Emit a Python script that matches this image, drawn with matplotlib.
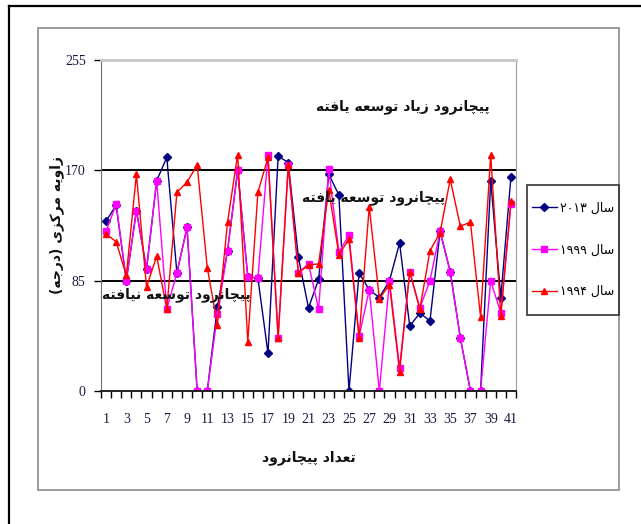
import matplotlib
matplotlib.use('Agg')
import matplotlib.pyplot as plt
from matplotlib.lines import Line2D
from matplotlib.patches import Rectangle

# data
points = list(range(1, 42))
tick_labels = [str(i) for i in range(1, 42, 2)]
y_ticks = [0, 85, 170, 255]

s2013 = [131, 143, 85, 139, 94, 162, 180, 91, 126, 0, 0, 65, 108, 170, 88, 87, 29, 181, 176, 103,
         64, 86, 167, 151, 0, 91, 78, 72, 85, 114, 50, 60, 54, 123, 92, 41, 0, 0, 162, 72, 165]
s1999 = [123, 144, 85, 139, 94, 162, 63, 91, 126, 0, 0, 59, 108, 170, 88, 87, 182, 41, 174, 91,
         98, 63, 171, 107, 120, 42, 78, 0, 85, 18, 92, 64, 85, 123, 92, 41, 0, 0, 85, 60, 144]
s1994 = [121, 115, 89, 167, 80, 104, 63, 153, 161, 174, 95, 51, 130, 182, 38, 153, 180, 41, 174, 91,
         97, 98, 155, 105, 117, 41, 142, 71, 82, 15, 92, 63, 108, 122, 163, 127, 130, 57, 182, 58, 146]

labels = ['سال ۲۰۱۳', 'سال ۱۹۹۹', 'سال ۱۹۹۴']
x_title = 'تعداد پیچانرود'
y_title = 'زاویه مرکزی (درجه)'
zone_high = 'پیچانرود زیاد توسعه یافته'
zone_mid = 'پیچانرود توسعه یافته'
zone_low = 'پیچانرود توسعه نیافته'

# minimal arabic shaping: matplotlib has no joining / bidi of its own
# forms: isolated, final, initial, medial
FORMS = {
    'ا': ('\uFE8D', '\uFE8E'), 'د': ('\uFEA9', '\uFEAA'), 'ر': ('\uFEAD', '\uFEAE'),
    'ز': ('\uFEAF', '\uFEB0'), 'و': ('\uFEED', '\uFEEE'),
    'ب': ('\uFE8F', '\uFE90', '\uFE91', '\uFE92'), 'ت': ('\uFE95', '\uFE96', '\uFE97', '\uFE98'),
    'ج': ('\uFE9D', '\uFE9E', '\uFE9F', '\uFEA0'), 'س': ('\uFEB1', '\uFEB2', '\uFEB3', '\uFEB4'),
    'ع': ('\uFEC9', '\uFECA', '\uFECB', '\uFECC'), 'ف': ('\uFED1', '\uFED2', '\uFED3', '\uFED4'),
    'ل': ('\uFEDD', '\uFEDE', '\uFEDF', '\uFEE0'), 'م': ('\uFEE1', '\uFEE2', '\uFEE3', '\uFEE4'),
    'ن': ('\uFEE5', '\uFEE6', '\uFEE7', '\uFEE8'), 'ه': ('\uFEE9', '\uFEEA', '\uFEEB', '\uFEEC'),
    'ی': ('\uFBFC', '\uFBFD', '\uFBFE', '\uFBFF'), 'پ': ('\uFB56', '\uFB57', '\uFB58', '\uFB59'),
    'چ': ('\uFB7A', '\uFB7B', '\uFB7C', '\uFB7D'), 'ک': ('\uFB8E', '\uFB8F', '\uFB90', '\uFB91'),
}
MIRROR = {'(': ')', ')': '('}


def rtl(text):
    out = []
    for i, c in enumerate(text):
        f = FORMS.get(c)
        if f is None:
            out.append(c)
            continue
        prev = text[i - 1] if i > 0 else ''
        nxt = text[i + 1] if i + 1 < len(text) else ''
        jp = prev in FORMS and len(FORMS[prev]) == 4
        jn = len(f) == 4 and nxt in FORMS
        if jp and jn:
            out.append(f[3])
        elif jp:
            out.append(f[1])
        elif jn:
            out.append(f[2])
        else:
            out.append(f[0])
    out = [MIRROR.get(c, c) for c in reversed(out)]
    # digit runs stay left to right
    res, run = [], []
    for c in out:
        if c.isdigit():
            run.append(c)
        else:
            res.extend(reversed(run))
            run = []
            res.append(c)
    res.extend(reversed(run))
    return ''.join(res)


fig = plt.figure(figsize=(6.41, 5.24), dpi=100)
W, H = 641, 524


def fx(px):
    return px / W


def fy(py):
    return 1 - py / H


# outer black border and grey chart frame
fig.add_artist(Line2D([fx(9), fx(9)], [fy(6), 0], color='black', lw=1.6))
fig.add_artist(Line2D([fx(9), 1], [fy(6), fy(6)], color='black', lw=1.6))
fig.add_artist(Rectangle((fx(38), fy(490)), fx(619) - fx(38), fy(28) - fy(490),
                         fill=False, edgecolor='#9a9a9a', lw=1.4))
# legend box
fig.add_artist(Rectangle((fx(527), fy(315)), fx(619) - fx(527), fy(185) - fy(315),
                         fill=False, edgecolor='#333333', lw=1.2))

ax = fig.add_axes([fx(101), fy(391), fx(516) - fx(101), fy(60) - fy(391)])
ax.plot(points, s2013, color='#000080', lw=1, marker='D', ms=4, label=rtl(labels[0]))
ax.plot(points, s1999, color='#ff00ff', lw=1, marker='s', ms=4.5, label=rtl(labels[1]))
ax.plot(points, s1994, color='#ff0000', lw=1, marker='^', ms=5, label=rtl(labels[2]))

ax.set_xlim(0.5, 41.5)
ax.set_ylim(0, 255)
ax.set_yticks(y_ticks)
ax.set_xticks(range(1, 42, 2))
ax.set_xticklabels(tick_labels)
ax.set_xticks([i + 0.5 for i in range(0, 42)], minor=True)
ax.tick_params(axis='x', which='major', length=0, pad=16)
ax.tick_params(axis='x', which='minor', length=5, width=1, direction='out')
ax.tick_params(axis='y', length=5, width=1, direction='out', pad=6)
for lab in ax.get_xticklabels() + ax.get_yticklabels():
    lab.set_family('Liberation Serif')
    lab.set_fontsize(10)
    lab.set_color('#1a1a40')

for v in (85, 170):
    ax.axhline(v, color='black', lw=1.4, zorder=1)
ax.spines['top'].set_color('#c8c8c8')
ax.spines['top'].set_linewidth(2)
ax.spines['right'].set_color('#a0a0a0')
ax.spines['left'].set_color('#707070')
ax.spines['bottom'].set_color('#202020')
ax.spines['bottom'].set_linewidth(1.4)

txt = dict(fontweight='bold', fontsize=10, family='DejaVu Sans', color='#111111')
ax.text(38.9, 219, rtl(zone_high), ha='right', va='center', **txt)
ax.text(34.5, 149, rtl(zone_mid), ha='right', va='center', **txt)
ax.text(0.6, 74, rtl(zone_low), ha='left', va='center', **txt)

fig.text(fx(309), fy(458), rtl(x_title), ha='center', va='center', **txt)
fig.text(fx(57), fy(225), rtl(y_title), ha='center', va='center', rotation=90, **txt)

leg = ax.legend(loc='center', bbox_to_anchor=(fx(573), fy(250)), bbox_transform=fig.transFigure,
                frameon=False, labelspacing=2.3, borderpad=0, handlelength=2.0, handletextpad=0.3,
                prop={'family': 'DejaVu Sans', 'size': 9})

fig.savefig('out.png', dpi=100)
